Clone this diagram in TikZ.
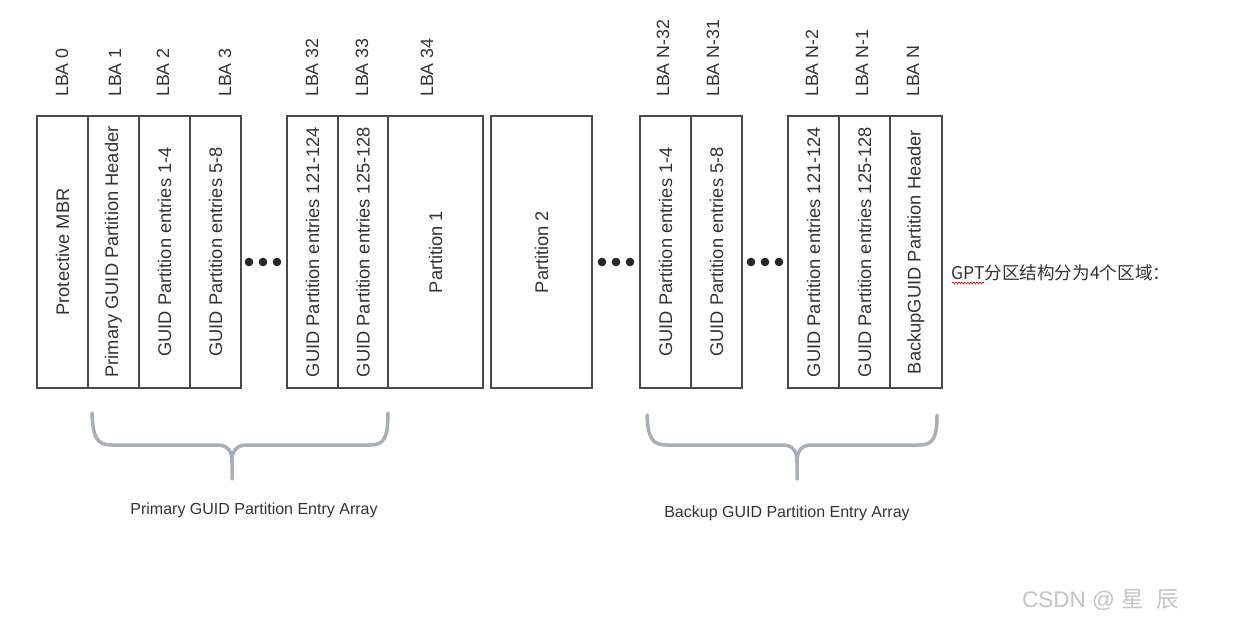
\documentclass[tikz,border=0pt]{standalone}
\usepackage{fontspec}
\setmainfont{Liberation Sans}
\newfontfamily\cjk{Noto Sans CJK SC}
\usetikzlibrary{decorations.pathmorphing}
\definecolor{txt}{HTML}{333333}
\definecolor{edgec}{HTML}{4A4A4A}
\definecolor{brc}{HTML}{A8AFB5}
\definecolor{wm}{HTML}{C4C4C4}
\tikzset{
  blk/.style={draw=edgec, line width=1.2pt, text=txt, rotate=90, inner sep=0pt,
    minimum width=272pt, font=\fontsize{18.3}{21}\selectfont},
  lba/.style={text=txt, rotate=90, anchor=west, inner sep=0pt, font=\fontsize{17.8}{20}\selectfont},
  brace/.style={draw=brc, line width=3.5pt, line cap=round, line join=round},
  capt/.style={text=txt, inner sep=0pt, font=\fontsize{16}{19}\selectfont},
  dotc/.style={fill=black!85}
}
\begin{document}
\begin{tikzpicture}[x=1pt,y=-1pt]
\useasboundingbox[fill=white] (0,0) rectangle (1249,617);

% blocks
\node[blk, minimum height=51pt] (b1) at (62.5,252) {Protective MBR};
\node[blk, minimum height=51pt] (b2) at (113.5,252) {Primary GUID Partition Header};
\node[blk, minimum height=51pt] (b3) at (164.5,252) {GUID Partition entries 1-4};
\node[blk, minimum height=51pt] (b4) at (215.5,252) {GUID Partition entries 5-8};
\node[blk, minimum height=51pt] (b5) at (312.5,252) {GUID Partition entries 121-124};
\node[blk, minimum height=50pt] (b6) at (363,252) {GUID Partition entries 125-128};
\node[blk, minimum height=95pt] (b7) at (435.5,252) {Partition 1};
\node[blk, minimum height=101pt] (b8) at (541.5,252) {Partition 2};
\node[blk, minimum height=51pt] (b9) at (665.5,252) {GUID Partition entries 1-4};
\node[blk, minimum height=51pt] (b10) at (716.5,252) {GUID Partition entries 5-8};
\node[blk, minimum height=51pt] (b11) at (813.5,252) {GUID Partition entries 121-124};
\node[blk, minimum height=51pt] (b12) at (864.5,252) {GUID Partition entries 125-128};
\node[blk, minimum height=52pt] (b13) at (916,252) {BackupGUID Partition Header};

% LBA labels
\node[lba] (l0) at (62,97) {LBA 0};
\node[lba] (l1) at (115,97) {LBA 1};
\node[lba] (l2) at (163,97) {LBA 2};
\node[lba] (l3) at (225,97) {LBA 3};
\node[lba] (l32) at (312,97) {LBA 32};
\node[lba] (l33) at (362,97) {LBA 33};
\node[lba] (l34) at (427,97) {LBA 34};
\node[lba] (ln32) at (663,97) {LBA N-32};
\node[lba] (ln31) at (713,97) {LBA N-31};
\node[lba] (ln2) at (812,97) {LBA N-2};
\node[lba] (ln1) at (862,97) {LBA N-1};
\node[lba] (ln) at (913,97) {LBA N};

% ellipsis dots
\foreach \x in {249,263,277} \fill[dotc] (\x,262) circle (4.3);
\foreach \x in {602,616,630} \fill[dotc] (\x,262) circle (4.3);
\foreach \x in {751,765,779} \fill[dotc] (\x,262) circle (4.3);

% braces
\draw[brace] (92,413) .. controls (93,438) and (97,445) .. (112,445) -- (217,445)
  .. controls (228,445) and (232,451) .. (232,462) -- (232,479);
\draw[brace] (388,413) .. controls (388,438) and (384,445) .. (370,445) -- (247,445)
  .. controls (236,445) and (232,451) .. (232,462);
\draw[brace] (647,415) .. controls (648,438) and (652,445) .. (667,445) -- (782,445)
  .. controls (793,445) and (797,451) .. (797,462) -- (797,479);
\draw[brace] (937,415) .. controls (937,438) and (933,445) .. (919,445) -- (812,445)
  .. controls (801,445) and (797,451) .. (797,462);

% captions
\node[capt] (cap1) at (254,510) {Primary GUID Partition Entry Array};
\node[capt] (cap2) at (787,513) {Backup GUID Partition Entry Array};

% side note
\node[text=txt, anchor=west, inner sep=0pt, font=\cjk\fontsize{17.6}{20}\selectfont] (note) at (951,273) {GPT分区结构分为4个区域：};
\draw[red!80!black, line width=0.6pt, decorate, decoration={snake, amplitude=0.9pt, segment length=3pt}] (952,283) -- (984,283);

% watermark
\node[text=wm, anchor=west, inner sep=0pt, font=\fontsize{22.5}{26}\selectfont] (wmk) at (1022,600) {CSDN @ {\cjk 星\hspace{0.55em}辰}};
\end{tikzpicture}
\end{document}
